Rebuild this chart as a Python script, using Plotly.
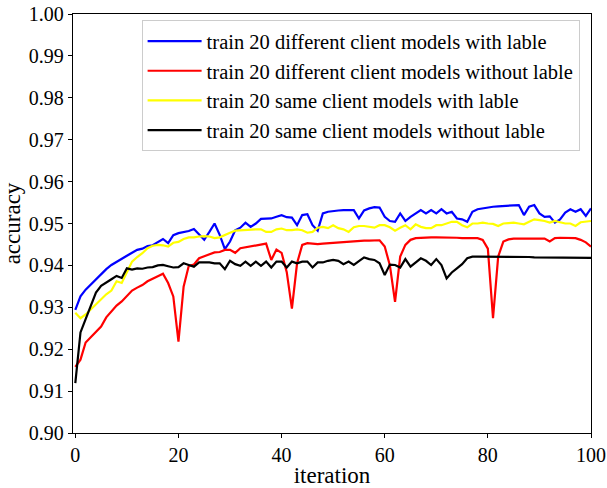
import plotly.graph_objects as go

iterations = list(range(101))

diff_with_label = [
    0.9294, 0.9326, 0.9342, 0.9354, 0.9367, 0.9380, 0.9391, 0.9401, 0.9409, 0.9417,
    0.9423, 0.9430, 0.9437, 0.9440, 0.9446, 0.9448, 0.9455, 0.9463, 0.9453, 0.9472,
    0.9477, 0.9480, 0.9482, 0.9487, 0.9473, 0.9461, 0.9480, 0.9500, 0.9473, 0.9439,
    0.9457, 0.9484, 0.9490, 0.9502, 0.9492, 0.9500, 0.9511, 0.9512, 0.9512, 0.9516,
    0.9520, 0.9515, 0.9514, 0.9496, 0.9520, 0.9522, 0.9496, 0.9483, 0.9524, 0.9528,
    0.9530, 0.9531, 0.9532, 0.9532, 0.9532, 0.9512, 0.9531, 0.9536, 0.9539, 0.9538,
    0.9516, 0.9506, 0.9504, 0.9524, 0.9506, 0.9516, 0.9524, 0.9532, 0.9524, 0.9532,
    0.9524, 0.9534, 0.9524, 0.9528, 0.9512, 0.9510, 0.9504, 0.9528, 0.9534, 0.9536,
    0.9539, 0.9540, 0.9541, 0.9542, 0.9543, 0.9543, 0.9544, 0.9520, 0.9540, 0.9544,
    0.9524, 0.9516, 0.9517, 0.9502, 0.9510, 0.9526, 0.9534, 0.9528, 0.9534, 0.9518,
    0.9536,
]

diff_without_label = [
    0.9158, 0.9175, 0.9216, 0.9228, 0.9240, 0.9254, 0.9276, 0.9290, 0.9304, 0.9314,
    0.9328, 0.9340, 0.9347, 0.9353, 0.9362, 0.9369, 0.9374, 0.9380, 0.9358, 0.9326,
    0.9218, 0.9349, 0.9399, 0.9402, 0.9417, 0.9422, 0.9427, 0.9431, 0.9432, 0.9437,
    0.9437, 0.9430, 0.9441, 0.9443, 0.9445, 0.9447, 0.9449, 0.9452, 0.9413, 0.9438,
    0.9430, 0.9384, 0.9297, 0.9405, 0.9449, 0.9453, 0.9452, 0.9451, 0.9452, 0.9453,
    0.9454, 0.9455, 0.9455, 0.9456, 0.9457, 0.9458, 0.9459, 0.9459, 0.9460, 0.9460,
    0.9445, 0.9400, 0.9313, 0.9421, 0.9449, 0.9461, 0.9465, 0.9466, 0.9466, 0.9467,
    0.9467, 0.9467, 0.9467, 0.9466, 0.9466, 0.9465, 0.9465, 0.9465, 0.9465, 0.9461,
    0.9440, 0.9274, 0.9421, 0.9457, 0.9462, 0.9464, 0.9464, 0.9465, 0.9464, 0.9465,
    0.9465, 0.9464, 0.9457, 0.9465, 0.9466, 0.9466, 0.9465, 0.9465, 0.9461, 0.9455,
    0.9445,
]

same_with_label = [
    0.9287, 0.9274, 0.9283, 0.9295, 0.9306, 0.9319, 0.9331, 0.9340, 0.9362, 0.9358,
    0.9385, 0.9409, 0.9420, 0.9429, 0.9441, 0.9447, 0.9449, 0.9448, 0.9445, 0.9454,
    0.9456, 0.9463, 0.9467, 0.9467, 0.9469, 0.9470, 0.9469, 0.9465, 0.9467, 0.9473,
    0.9478, 0.9483, 0.9484, 0.9484, 0.9486, 0.9486, 0.9486, 0.9480, 0.9480, 0.9486,
    0.9488, 0.9484, 0.9484, 0.9486, 0.9484, 0.9478, 0.9480, 0.9490, 0.9492, 0.9489,
    0.9496, 0.9489, 0.9486, 0.9480, 0.9491, 0.9494, 0.9494, 0.9492, 0.9490, 0.9496,
    0.9496, 0.9491, 0.9483, 0.9490, 0.9496, 0.9486, 0.9498, 0.9492, 0.9489, 0.9489,
    0.9496, 0.9496, 0.9500, 0.9504, 0.9504, 0.9496, 0.9491, 0.9500, 0.9500, 0.9502,
    0.9500, 0.9499, 0.9494, 0.9500, 0.9501, 0.9502, 0.9500, 0.9498, 0.9504, 0.9510,
    0.9508, 0.9506, 0.9502, 0.9506, 0.9503, 0.9500, 0.9500, 0.9494, 0.9503, 0.9504,
    0.9506,
]

same_without_label = [
    0.9119, 0.9240, 0.9272, 0.9304, 0.9335, 0.9351, 0.9358, 0.9367, 0.9375, 0.9370,
    0.9393, 0.9390, 0.9393, 0.9392, 0.9395, 0.9396, 0.9400, 0.9401, 0.9398, 0.9395,
    0.9396, 0.9405, 0.9401, 0.9397, 0.9407, 0.9407, 0.9407, 0.9405, 0.9405, 0.9391,
    0.9411, 0.9403, 0.9399, 0.9409, 0.9399, 0.9409, 0.9399, 0.9409, 0.9395, 0.9409,
    0.9409, 0.9395, 0.9409, 0.9405, 0.9409, 0.9409, 0.9395, 0.9407, 0.9407, 0.9411,
    0.9413, 0.9411, 0.9403, 0.9409, 0.9401, 0.9410, 0.9419, 0.9415, 0.9413, 0.9405,
    0.9377, 0.9402, 0.9401, 0.9395, 0.9415, 0.9397, 0.9407, 0.9417, 0.9411, 0.9401,
    0.9415, 0.9401, 0.9369, 0.9383, 0.9393, 0.9403, 0.9417, 0.9421, 0.9421, 0.9421,
    0.9421, 0.9421, 0.9421, 0.9420, 0.9420, 0.9420, 0.9420, 0.9420, 0.9420, 0.9419,
    0.9419, 0.9419, 0.9419, 0.9419, 0.9419, 0.9418, 0.9418, 0.9418, 0.9418, 0.9418,
    0.9418,
]

series_names = [
    "train 20 different client models with lable",
    "train 20 different client models without lable",
    "train 20 same client models with lable",
    "train 20 same client models without lable",
]
series_values = [diff_with_label, diff_without_label, same_with_label, same_without_label]
series_colors = ["#0000ff", "#ff0000", "#ffff00", "#000000"]

y_ticks = [0.90, 0.91, 0.92, 0.93, 0.94, 0.95, 0.96, 0.97, 0.98, 0.99, 1.00]
x_ticks = [0, 20, 40, 60, 80, 100]

FONT = "Liberation Serif, Times New Roman, serif"

fig = go.Figure()
for name, vals, col in zip(series_names, series_values, series_colors):
    fig.add_trace(go.Scatter(x=iterations, y=vals, mode="lines", name=name,
                             line=dict(color=col, width=2.2)))

fig.update_layout(
    width=607, height=488,
    margin=dict(l=73, r=16, t=14, b=55, autoexpand=False),
    paper_bgcolor="white", plot_bgcolor="white",
    font=dict(family=FONT, size=20, color="black"),
    showlegend=True,
    legend=dict(
        x=0.978, y=0.985, xanchor="right", yanchor="top",
        bordercolor="#cccccc", borderwidth=1, bgcolor="rgba(255,255,255,0.8)",
        font=dict(family=FONT, size=20.5, color="black"),
        itemwidth=54,
    ),
)

fig.update_xaxes(
    range=[-0.45, 100], tickvals=x_ticks, ticktext=[str(v) for v in x_ticks],
    showgrid=False, zeroline=False, automargin=False,
    showline=True, linecolor="black", linewidth=1.3, mirror=True,
    ticks="outside", ticklen=4, tickwidth=1.2, tickcolor="black",
    tickfont=dict(family=FONT, size=20),
    title=dict(text="iteration", font=dict(family=FONT, size=23), standoff=4),
)
fig.update_yaxes(
    range=[0.90, 1.00], tickvals=y_ticks, ticktext=[f"{v:.2f}" for v in y_ticks],
    showgrid=False, zeroline=False, automargin=False,
    showline=True, linecolor="black", linewidth=1.3, mirror=True,
    ticks="outside", ticklen=4, tickwidth=1.2, tickcolor="black",
    tickfont=dict(family=FONT, size=20),
    title=dict(text="accuracy", font=dict(family=FONT, size=23), standoff=6),
)

fig.write_html("out.html")
